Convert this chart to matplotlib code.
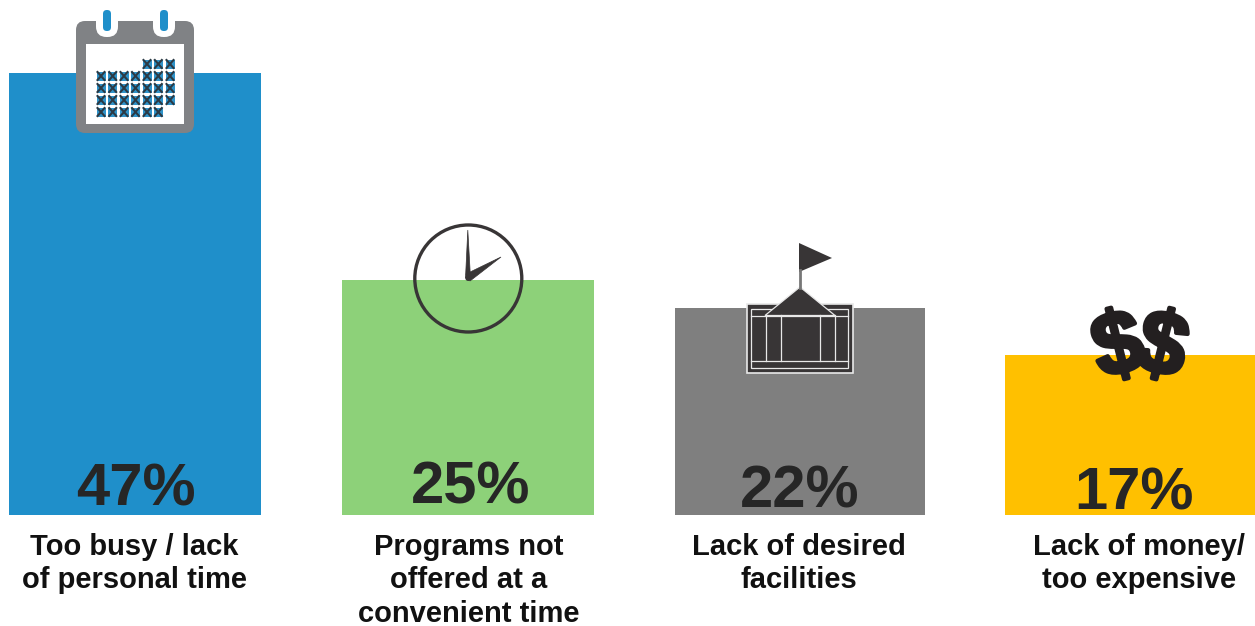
import matplotlib
matplotlib.use('Agg')
import matplotlib.pyplot as plt
import matplotlib.patheffects as pe
from matplotlib.patches import Rectangle, FancyBboxPatch, Circle, Polygon

plt.rcParams['font.family'] = ['Liberation Sans', 'DejaVu Sans']

# survey data
reasons = ['Too busy / lack\nof personal time',
           'Programs not\noffered at a\nconvenient time',
           'Lack of desired\nfacilities',
           'Lack of money/\ntoo expensive']
percents = [47, 25, 22, 17]
bar_colors = ['#1f8fca', '#8dd179', '#7f7f7f', '#ffc000']

W, H = 1255, 626
DARK = '#383536'

fig = plt.figure(figsize=(W / 100, H / 100), dpi=100)

# bars live in an axes whose y scale is percent, baseline at pixel row 515
px_per_pct = 442 / 47
bar_ax = fig.add_axes([0, (H - 515) / H, 1, 515 / H])
bar_ax.set_xlim(0, W)
bar_ax.set_ylim(0, 515 / px_per_pct)
bar_ax.axis('off')

centers = [135, 468, 800, 1130]
widths = [252, 252, 250, 250]
bar_ax.bar(centers, percents, width=widths, color=bar_colors, linewidth=0)

# overlay in pixel coordinates for the icons and text
ax = fig.add_axes([0, 0, 1, 1])
ax.set_xlim(0, W)
ax.set_ylim(H, 0)
ax.axis('off')
ax.patch.set_alpha(0)


def draw_calendar():
    ax.add_patch(FancyBboxPatch((76, 21), 118, 112, boxstyle='round,pad=0,rounding_size=9',
                                fc='#808285', ec='none'))
    ax.add_patch(Rectangle((85.5, 44), 98.5, 80, fc='white', ec='none'))
    for x in (96, 153):
        ax.add_patch(FancyBboxPatch((x, 3), 22, 34, boxstyle='round,pad=0,rounding_size=10.5',
                                    fc='white', ec='none'))
        ax.add_patch(FancyBboxPatch((x + 7, 10), 8, 21, boxstyle='round,pad=0,rounding_size=3.8',
                                    fc='#1f8fca', ec='none'))
    cols = [101, 112.7, 124, 135.5, 147, 158.3, 170]
    rows = [64, 76, 88, 100, 112]
    for r, y in enumerate(rows):
        for c, x in enumerate(cols):
            if (r == 0 and c < 4) or (r == 4 and c == 6):
                continue
            ax.add_patch(Rectangle((x - 4.5, y - 4.5), 9, 9, fc='#2f93c9', ec='none'))
            ax.plot([x - 3.5, x + 3.5], [y - 4, y + 4], color='#2b3a45', lw=1.5)
            ax.plot([x - 3.5, x + 3.5], [y + 4, y - 4], color='#2b3a45', lw=1.5)


def draw_clock():
    ax.add_patch(Circle((468.3, 278.5), 53.5, fc='none', ec=DARK, lw=2.4))
    ax.add_patch(Polygon([(465.5, 278), (467.8, 230), (470.5, 278)], fc=DARK, ec=DARK, lw=0.5))
    ax.add_patch(Polygon([(466, 274), (501, 257), (470, 281)], fc=DARK, ec=DARK, lw=0.5))
    ax.add_patch(Circle((468.3, 278), 3, fc=DARK, ec='none'))


def draw_building():
    ax.add_patch(Rectangle((746.5, 303.5), 106, 69, fc=DARK, ec='#e8e8e8', lw=1.2))
    ax.add_patch(Rectangle((751, 308.5), 97, 59.5, fc='none', ec='#e8e8e8', lw=0.9))
    for x in (765.5, 780.5, 819.5, 834.5):
        ax.plot([x, x], [315, 361], color='#e8e8e8', lw=0.9)
    ax.plot([751, 848], [361, 361], color='#e8e8e8', lw=0.9)
    ax.plot([751, 848], [315.5, 315.5], color='#e8e8e8', lw=0.9)
    # flag and roof
    ax.plot([800, 800], [270, 288], color='#777777', lw=2)
    ax.add_patch(Polygon([(799, 243), (832, 258), (799, 272)], fc=DARK, ec='none'))
    ax.add_patch(Polygon([(800, 287), (835, 315.5), (765, 315.5)], fc=DARK, ec='#e8e8e8', lw=0.9))


def draw_dollars():
    for x, rot in [(1119, 14), (1161, -14)]:
        ax.text(x, 350, '$', fontsize=64, fontweight='bold', color='#231f20',
                ha='center', va='center', rotation=rot, rotation_mode='anchor',
                path_effects=[pe.withStroke(linewidth=3, foreground='#231f20')])


draw_calendar()
draw_clock()
draw_building()
draw_dollars()

# percent labels, sitting just above the baseline
pct_x = [136, 471, 800, 1134]
pct_y = [505, 504, 508, 510]
for x, y, p in zip(pct_x, pct_y, percents):
    ax.text(x, y, f'{p}%', fontsize=43, fontweight='bold', color='#262626',
            ha='center', va='baseline')

# category labels under each bar
label_x = [134, 469, 799, 1139]
for x, name in zip(label_x, reasons):
    for i, line in enumerate(name.split('\n')):
        ax.text(x, 555 + i * 33.5, line, fontsize=21, fontweight='bold', color='#111111',
                ha='center', va='baseline')

fig.savefig('out.png', dpi=100)
